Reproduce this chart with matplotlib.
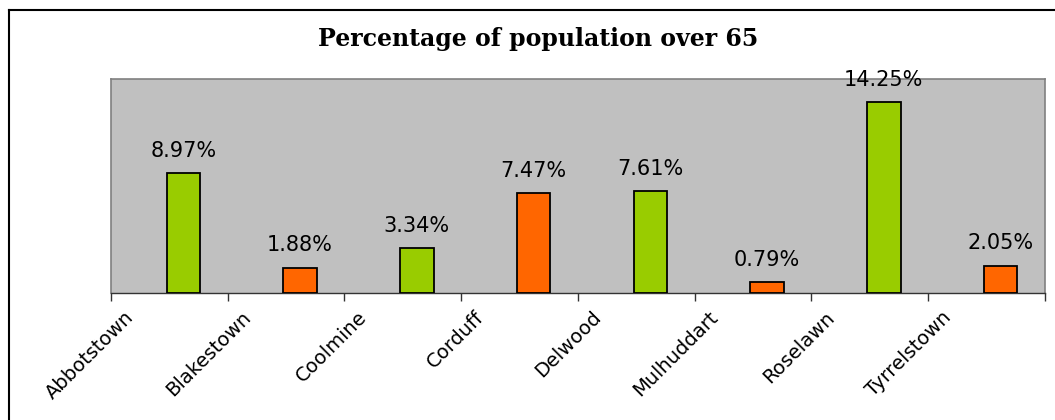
import matplotlib
matplotlib.use('Agg')
import matplotlib.pyplot as plt
from matplotlib.lines import Line2D

# data
areas = ['Abbotstown', 'Blakestown', 'Coolmine', 'Corduff',
         'Delwood', 'Mulhuddart', 'Roselawn', 'Tyrrelstown']
pct_over_65 = [8.97, 1.88, 3.34, 7.47, 7.61, 0.79, 14.25, 2.05]
pct_labels = ['8.97%', '1.88%', '3.34%', '7.47%', '7.61%', '0.79%', '14.25%', '2.05%']

green = '#99CC00'
orange = '#FF6600'
bar_colors = [green, orange] * 4

fig = plt.figure(figsize=(10.55, 4.2), dpi=100)
ax = fig.add_axes([0.1052, 0.3024, 0.8853, 0.5095])
ax.set_facecolor('#C0C0C0')

x = range(len(areas))
xpos = [i + 0.12 for i in x]
bars = ax.bar(xpos, pct_over_65, width=0.285, color=bar_colors,
              edgecolor='black', linewidth=1.3, zorder=3)

for b, lab in zip(bars, pct_labels):
    ax.annotate(lab, (b.get_x() + b.get_width() / 2, b.get_height()),
                xytext=(0, 9), textcoords='offset points',
                ha='center', va='bottom', fontsize=15,
                family='DejaVu Sans', zorder=4, annotation_clip=False)

ax.set_xlim(-0.5, len(areas) - 0.5)
ax.set_ylim(0, 16)
ax.set_yticks([])
ax.set_xticks([i - 0.5 for i in range(len(areas) + 1)])
ax.set_xticklabels([])
ax.tick_params(axis='x', length=6, width=1, color='#333333', direction='out')

for s in ['top', 'left', 'right']:
    ax.spines[s].set_color('#808080')
    ax.spines[s].set_linewidth(1.2)
ax.spines['bottom'].set_color('#333333')
ax.spines['bottom'].set_linewidth(1)

# category labels sit just right of each tick
trans = ax.get_xaxis_transform()
for i, name in enumerate(areas):
    ax.text(i - 0.33, -0.1, name, transform=trans, rotation=45,
            rotation_mode='anchor', ha='right', va='center',
            fontsize=14, family='DejaVu Sans')

fig.text(0.51, 0.907, 'Percentage of population over 65', ha='center',
         va='center', fontsize=17, fontweight='bold', family='DejaVu Serif')

# outer chart frame (top and left edges show)
fig.add_artist(Line2D([9 / 1055, 9 / 1055], [0, 1 - 10 / 420], color='black', lw=1.5))
fig.add_artist(Line2D([9 / 1055, 1], [1 - 10 / 420, 1 - 10 / 420], color='black', lw=1.5))

fig.savefig('out.png', dpi=100)
